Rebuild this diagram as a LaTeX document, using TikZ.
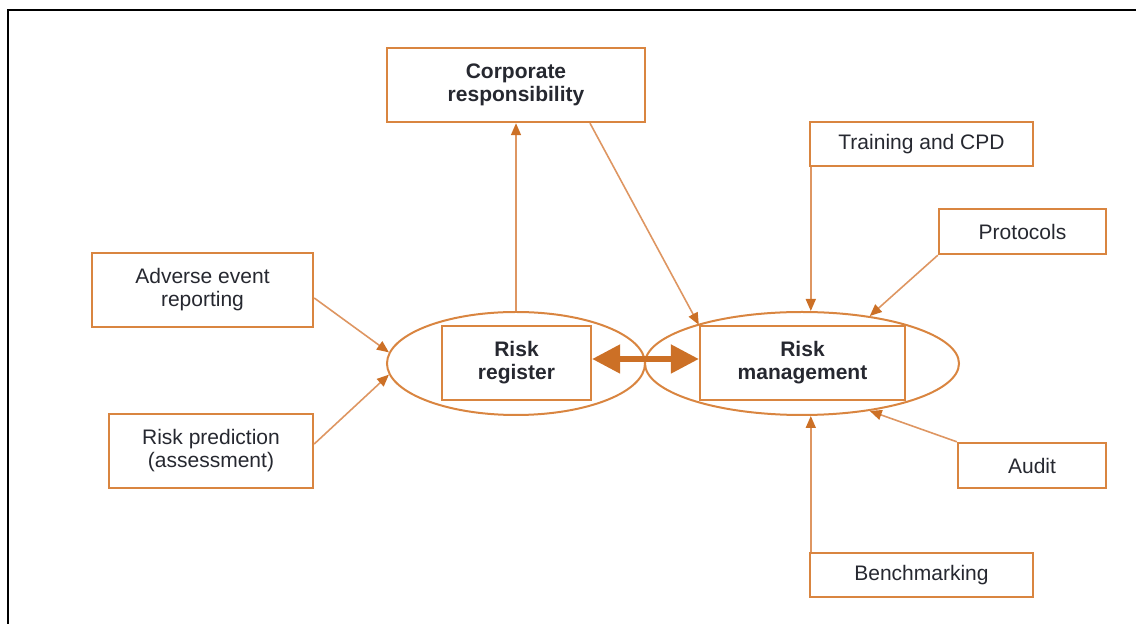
\documentclass[tikz,border=0pt]{standalone}
\usepackage{fontspec}
\setmainfont{Liberation Sans}
\usetikzlibrary{shapes.geometric,arrows.meta}

\definecolor{boxorange}{RGB}{217,133,64}
\definecolor{linkorange}{RGB}{222,150,98}
\definecolor{darkorange}{RGB}{204,112,38}
\definecolor{labelgray}{RGB}{38,40,48}

\begin{document}
\begin{tikzpicture} [
                x=0.5pt, y=-0.5pt,
                every node/.style={
                    text=labelgray,
                    font=\fontsize{10.5}{11.5}\selectfont,
                    align=center,
                    inner sep=0pt
                },
                factorbox/.style={
                    rectangle,
                    draw=boxorange,
                    line width=1.2pt
                },
                corebox/.style={
                    factorbox,
                    font=\fontsize{10.5}{11.5}\selectfont\bfseries,
                    minimum height=37pt
                },
                coreell/.style={
                    ellipse,
                    draw=boxorange,
                    line width=1pt,
                    minimum height=51.5pt
                },
                link/.style={
                    draw=linkorange,
                    line width=0.8pt,
                    -{Triangle[length=6pt,width=5pt,color=darkorange]}
                },
                twoway/.style={
                    draw=darkorange,
                    line width=2.6pt,
                    {Triangle[length=14pt,width=14pt]}-{Triangle[length=14pt,width=14pt]}
                }
            ]

                \useasboundingbox (0,0) rectangle (1136,624);
                \draw[line width=1.1pt] (8,624) -- (8,10) -- (1136,10);

                % the two core ellipses
                \node[coreell, minimum width=129pt] (regell)  at (516,363.5) {};
                \node[coreell, minimum width=157pt] (mgmtell) at (802,363.5) {};

                \node[corebox, minimum width=74.5pt]  (regbox)  at (516.5,363) {Risk\\register};
                \node[corebox, minimum width=102.5pt] (mgmtbox) at (802.5,363) {Risk\\management};
                \node[corebox, minimum width=129pt]   (corp)    at (516,85)    {Corporate\\responsibility};

                % inputs
                \node[factorbox, minimum width=110.5pt, minimum height=37pt]   (adverse)  at (202.5,290)   {Adverse event\\reporting};
                \node[factorbox, minimum width=102pt,   minimum height=37pt]   (riskpred) at (211,451)     {Risk prediction\\(assessment)};
                \node[factorbox, minimum width=111.5pt, minimum height=22pt]   (training) at (921.5,144)   {Training and CPD};
                \node[factorbox, minimum width=83.5pt,  minimum height=22.5pt] (protocol) at (1022.5,231.5) {Protocols};
                \node[factorbox, minimum width=74pt,    minimum height=22.5pt] (audit)    at (1032,465.5)  {Audit};
                \node[factorbox, minimum width=111.5pt, minimum height=22pt]   (bench)    at (921.5,575)   {Benchmarking};

                % connectors
                \draw[link] (regell.north) -- (corp.south);
                \draw[link] ([xshift=37pt]corp.south) -- (mgmtbox.north west);
                \draw[link] ([yshift=-4pt]adverse.east) -- (regell.175);
                \draw[link] ([yshift=3.5pt]riskpred.east) -- (regell.185);
                \draw[link] ([xshift=1pt]training.south west) -- ([xshift=1pt]training.south west |- mgmtell.north);
                \draw[link] (protocol.south west) -- (mgmtell.35);
                \draw[link] (audit.north west) -- (mgmtell.-35);
                \draw[link] ([xshift=1pt]bench.north west) -- ([xshift=1pt]bench.north west |- mgmtell.south);

                \draw[twoway] ([yshift=2pt]regbox.east) -- ([yshift=2pt]mgmtbox.west);

            \end{tikzpicture}
\end{document}
